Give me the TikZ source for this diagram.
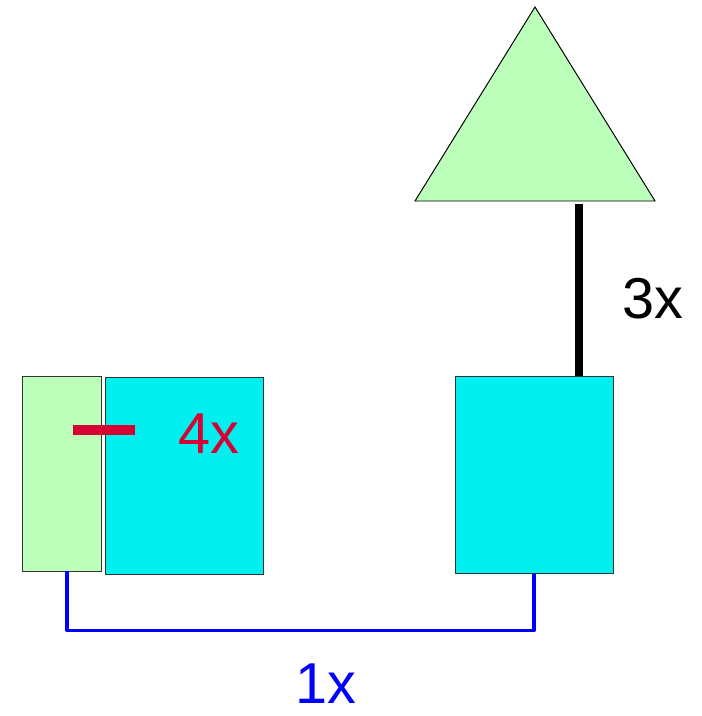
\documentclass[tikz,border=0pt]{standalone}
\usepackage{fontspec}
\setmainfont{Liberation Sans}
\usepackage{xcolor}
\definecolor{bxgreen}{RGB}{187,255,187}
\definecolor{bxcyan}{RGB}{0,240,240}
\definecolor{bxred}{RGB}{215,0,50}
\definecolor{bxblue}{RGB}{0,0,255}
\usetikzlibrary{arrows.meta,positioning,calc}

\begin{document}
\begin{tikzpicture}[
  x=0.025cm, y=-0.025cm,
  gbox/.style={rectangle, draw=black!80, line width=0.7pt, fill=bxgreen,
               minimum width=79*0.025cm, minimum height=195*0.025cm, inner sep=0pt},
  cbox/.style={rectangle, draw=black!80, line width=0.7pt, fill=bxcyan,
               minimum width=158*0.025cm, minimum height=197*0.025cm, inner sep=0pt},
  lbl/.style={font=\fontsize{41}{48}\selectfont, inner sep=0pt},
  bus/.style={draw=bxblue, line width=2.8pt, line join=round}
]
\useasboundingbox (0,0) rectangle (702,716);

% Boxes
\node[gbox] (green) at (61.5,473.5) {};
\node[cbox] (lcyan) at (184,475.5) {};
\node[cbox] (rcyan) at (534,475) {};

% Triangle on top
\draw[draw=black, line width=0.7pt, fill=bxgreen] (415,201) -- (535,7) -- (655,201) -- cycle;
\coordinate (tri) at (579,204);

% Links
\draw[line width=5.7pt] (tri) -- (tri |- rcyan.north);
\draw[bus] ([xshift=4pt]green.south) -- ++(0,59) -| (rcyan.south);
\draw[draw=bxred, line width=7pt] (73,430) -- (135,430);

% Labels
\node[lbl, text=bxred]  (four)  at (209,434) {4x};
\node[lbl]              (three) at (653,299) {3x};
\node[lbl, text=bxblue] (one)   at (326,684) {1x};
\end{tikzpicture}
\end{document}
